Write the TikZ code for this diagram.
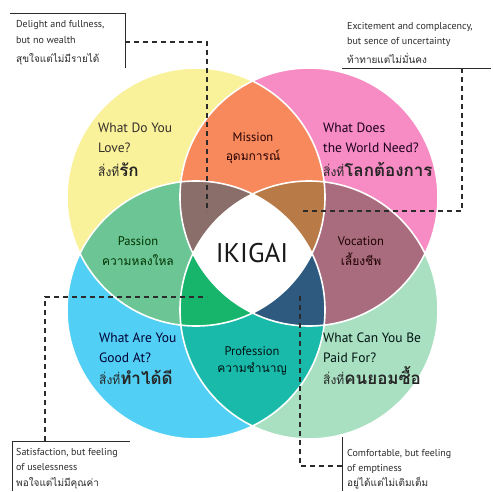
\documentclass[tikz,border=0pt]{standalone}
\usepackage{fontspec}
\setmainfont{PT Sans}
\newfontfamily\thaifont[Script=Thai]{Loma}
\definecolor{cyel}{HTML}{FAF19B}
\definecolor{cpink}{HTML}{F78BC3}
\definecolor{cblue}{HTML}{52CFF4}
\definecolor{cgreen}{HTML}{A9E0C1}
\definecolor{corange}{HTML}{F7895D}
\definecolor{cpassion}{HTML}{6CC594}
\definecolor{cvoc}{HTML}{A86C7E}
\definecolor{cprof}{HTML}{1ABAAB}
\definecolor{ctl}{HTML}{8A6E69}
\definecolor{ctr}{HTML}{B87B47}
\definecolor{cbl}{HTML}{16B56B}
\definecolor{cbr}{HTML}{2E5A80}
\definecolor{ink}{HTML}{2B2B2B}
\begin{document}
\begin{tikzpicture}[x=1pt,y=-1pt,
  eng/.style={font=\fontsize{13.5}{20}\selectfont, inner sep=0pt},
  engc/.style={font=\fontsize{12.5}{20}\selectfont, inner sep=0pt},
  note/.style={font=\fontsize{10}{15}\selectfont, inner sep=0pt, text=ink, anchor=base west},
  thn/.style={font=\thaifont\fontsize{10}{15}\selectfont, inner sep=0pt, text=ink, anchor=base west},
  thc/.style={font=\thaifont\fontsize{12}{20}\selectfont, inner sep=0pt},
  thb/.style={font=\thaifont\fontsize{12}{20}\selectfont, inner sep=0pt, text=black!85},
  frame/.style={draw=ink, line width=1pt},
  link/.style={draw=ink, line width=1.4pt, dash pattern=on 5pt off 4pt},
  sep/.style={draw=white, line width=1.6pt}]
\def\R{129pt}
\useasboundingbox (0,0) rectangle (493,491);
\fill[white] (0,0) rectangle (493,491);
\coordinate (cY) at (196,197);
\coordinate (cP) at (309,197);
\coordinate (cB) at (196,310);
\coordinate (cG) at (309,310);
% single circles
\fill[cyel] (cY) circle[radius=\R];
\fill[cpink] (cP) circle[radius=\R];
\fill[cblue] (cB) circle[radius=\R];
\fill[cgreen] (cG) circle[radius=\R];
% pairs
\begin{scope}\clip (cY) circle[radius=\R];
  \fill[corange] (cP) circle[radius=\R];
  \fill[cpassion] (cB) circle[radius=\R];
\end{scope}
\begin{scope}\clip (cG) circle[radius=\R];
  \fill[cvoc] (cP) circle[radius=\R];
  \fill[cprof] (cB) circle[radius=\R];
\end{scope}
% triples
\begin{scope}\clip (cY) circle[radius=\R]; \clip (cP) circle[radius=\R];
  \fill[ctl] (cB) circle[radius=\R];
  \fill[ctr] (cG) circle[radius=\R];
\end{scope}
\begin{scope}\clip (cB) circle[radius=\R]; \clip (cG) circle[radius=\R];
  \fill[cbl] (cY) circle[radius=\R];
  \fill[cbr] (cP) circle[radius=\R];
\end{scope}
% all four
\begin{scope}\clip (cY) circle[radius=\R]; \clip (cP) circle[radius=\R]; \clip (cB) circle[radius=\R];
  \fill[white] (cG) circle[radius=\R];
\end{scope}
\foreach \c in {cY,cP,cB,cG} \draw[sep] (\c) circle[radius=\R];

% region texts
\node[eng, text=black!85!olive, anchor=base west] (y1) at (98,132) {What Do You};
\node[eng, text=black!85!olive, anchor=base west] (y2) at (98,152) {Love?};
\node[thb, anchor=base west] (y3) at (98,176) {สิ่งที่{\bfseries\fontsize{17}{20}\selectfont รัก}};

\node[eng, text=black!80!violet, anchor=base west] (p1) at (323,132) {What Does};
\node[eng, text=black!80!violet, anchor=base west] (p2) at (323,152) {the World Need?};
\node[thb, anchor=base west] (p3) at (323,176) {สิ่งที่{\bfseries\fontsize{17}{20}\selectfont โลกต้องการ}};

\node[engc, text=black!85!red, anchor=base] (m1) at (253,141) {Mission};
\node[thc, text=black!85!red, anchor=base] (m2) at (253,160) {อุดมการณ์};

\node[engc, text=black!80!green, anchor=base] (s1) at (138,245) {Passion};
\node[thc, text=black!80!green, anchor=base] (s2) at (138,265) {ความหลงใหล};

\node[font=\fontsize{27}{30}\selectfont, inner sep=0pt, text=black!90, anchor=base] (ik) at (252,262) {IKIGAI};

\node[engc, text=black!88!red, anchor=base] (v1) at (361,245) {Vocation};
\node[thc, text=black!88!red, anchor=base] (v2) at (361,265) {เลี้ยงชีพ};

\node[eng, text=black!80!blue, anchor=base west] (b1) at (99,342) {What Are You};
\node[eng, text=black!80!blue, anchor=base west] (b2) at (99,362) {Good At?};
\node[thb, anchor=base west] (b3) at (99,384) {สิ่งที่{\bfseries\fontsize{17}{20}\selectfont ทำได้ดี}};

\node[engc, text=black!85!teal, anchor=base] (f1) at (252,355) {Profession};
\node[thc, text=black!85!teal, anchor=base] (f2) at (252,372) {ความชำนาญ};

\node[eng, text=black!85!teal, anchor=base west] (g1) at (323,342) {What Can You Be};
\node[eng, text=black!85!teal, anchor=base west] (g2) at (323,362) {Paid For?};
\node[thb, anchor=base west] (g3) at (323,384) {สิ่งที่{\bfseries\fontsize{17}{20}\selectfont คนยอมซื้อ}};

% callouts
\node[note] (n1a) at (16,27) {Delight and fullness,};
\node[note] (n1b) at (16,43) {but no wealth};
\node[thn] (n1c) at (16,62) {สุขใจแต่ไม่มีรายได้};
\coordinate (tlA) at (10,13);
\coordinate (tlB) at (125,13);
\coordinate (tlC) at (125,68);
\coordinate (tlD) at (125,42);
\coordinate (tlE) at (207,42);
\coordinate (tlF) at (207,212);
\draw[frame] (tlA) -- (tlB) -- (tlC);
\draw[link] (tlD) -- (tlE) -- (tlF);

\node[note] (n2a) at (347,29) {Excitement and complacency,};
\node[note] (n2b) at (347,44) {but sence of uncertainty};
\node[thn] (n2c) at (347,63) {ท้าทายแต่ไม่มั่นคง};
\coordinate (trA) at (342,68);
\coordinate (trB) at (491,68);
\coordinate (trD) at (462,68);
\coordinate (trE) at (462,211);
\coordinate (trF) at (300,211);
\draw[frame] (trA) -- (trB);
\draw[link] (trD) -- (trE) -- (trF);

\node[note] (n3a) at (16,455) {Satisfaction, but feeling};
\node[note] (n3b) at (16,470) {of uselessness};
\node[thn] (n3c) at (16,486) {พอใจแต่ไม่มีคุณค่า};
\coordinate (blA) at (12,491);
\coordinate (blB) at (12,441);
\coordinate (blC) at (130,441);
\coordinate (blD) at (45,441);
\coordinate (blE) at (45,297);
\coordinate (blF) at (207,297);
\draw[frame] (blA) -- (blB) -- (blC);
\draw[link] (blD) -- (blE) -- (blF);

\node[note] (n4a) at (347,456) {Comfortable, but feeling};
\node[note] (n4b) at (347,471) {of emptiness};
\node[thn] (n4c) at (347,486) {อยู่ได้แต่ไม่เติมเต็ม};
\coordinate (brA) at (342,437);
\coordinate (brB) at (342,491);
\coordinate (brD) at (342,466);
\coordinate (brE) at (300,466);
\coordinate (brF) at (300,292);
\draw[frame] (brA) -- (brB);
\draw[link] (brD) -- (brE) -- (brF);
\end{tikzpicture}
\end{document}
